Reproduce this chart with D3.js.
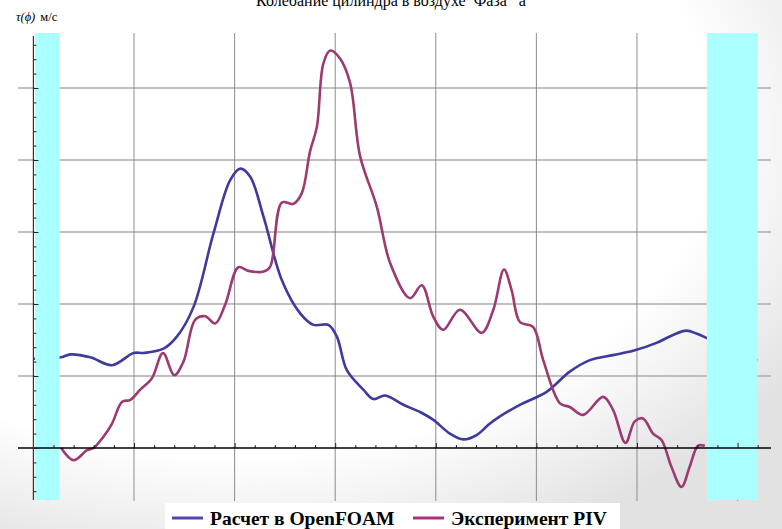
<!DOCTYPE html>
<html>
<head>
<meta charset="utf-8">
<script src="https://cdn.jsdelivr.net/npm/d3@7"></script>
<style>
  html, body { margin: 0; padding: 0; background: #fff; }
  svg { display: block; }
</style>
</head>
<body>
<script>
const title = 'Колебание цилиндра в воздухе  Фаза   а'
const seriesNames = ['Расчет в OpenFOAM', 'Эксперимент PIV']

// OpenFOAM, phase (deg) / value
const foamX = [0, 13.8, 18.4, 28.3, 39.1, 49.8, 54.8, 64.7, 71.4, 79.6, 89.5, 97.8, 102.8, 107.7, 114.4, 123.5,
  132.6, 139.2, 146.6, 150.8, 155.8, 164, 169, 174.8, 183.9, 192.2, 198.8, 207, 213.7, 220.3, 226.9, 231.9,
  241.8, 255.1, 266.6, 276.6, 288.1, 298.1, 309.7, 317.9, 324.6, 329.5, 333.7, 346, 360]
const foamY = [1.24, 1.26, 1.30, 1.26, 1.15, 1.32, 1.32, 1.38, 1.55, 1.96, 2.98, 3.72, 3.88, 3.77, 3.21, 2.33,
  1.87, 1.71, 1.71, 1.55, 1.08, 0.81, 0.68, 0.73, 0.60, 0.50, 0.39, 0.20, 0.12, 0.18, 0.34, 0.44,
  0.60, 0.78, 1.06, 1.22, 1.29, 1.35, 1.46, 1.57, 1.63, 1.59, 1.54, 1.36, 1.22]

// PIV experiment
const pivX = [13.8, 20, 26.7, 29.9, 34.9, 39.1, 44, 48.2, 53.1, 58.9, 64.4, 70, 74.6, 80.4, 85.4, 90.4, 95.3,
  101.9, 106.9, 114.4, 117.7, 123.5, 129.2, 133.4, 137.5, 140.9, 144.1, 147.5, 152.4, 157.4, 162.4, 170.7,
  177.3, 187.2, 193, 198.8, 203.7, 212, 222.8, 228.6, 233.9, 237.7, 241.8, 248.4, 253.4, 261.7, 266.6,
  273.2, 283.2, 288.1, 294.3, 298.9, 303, 308, 312.2, 317.1, 322.1, 326.2, 330.3, 333.7]
const pivY = [0, -0.17, -0.03, 0, 0.16, 0.34, 0.64, 0.67, 0.81, 0.97, 1.32, 1.01, 1.20, 1.78, 1.83, 1.73, 1.99,
  2.51, 2.46, 2.45, 2.52, 3.41, 3.39, 3.54, 4.12, 4.46, 5.34, 5.52, 5.41, 5.07, 4.05, 3.35,
  2.57, 2.08, 2.26, 1.82, 1.64, 1.92, 1.60, 1.92, 2.48, 2.19, 1.75, 1.68, 1.22, 0.62, 0.57,
  0.46, 0.71, 0.53, 0.07, 0.37, 0.41, 0.20, 0.11, -0.26, -0.54, -0.26, 0.03, 0.03]

const bands = [[0, 13], [334, 360]]
const xMajor = [50, 100, 150, 200, 250, 300, 350]
const yMajor = [1, 2, 3, 4, 5]

const width = 782
const height = 529

let svg = d3.select('body').append('svg')
  .attr('width', width)
  .attr('height', height)
  .style('font-family', '"Liberation Serif", "DejaVu Serif", serif')

let x = d3.scaleLinear().domain([0, 360]).range([33.4, 757.7])
let y = d3.scaleLinear().domain([0, 5]).range([448, 88])

// soft grey shading towards the lower right corner
let defs = svg.append('defs')
let grad = defs.append('radialGradient')
  .attr('id', 'bg')
  .attr('cx', '30%').attr('cy', '25%').attr('r', '85%')
grad.append('stop').attr('offset', '72%').attr('stop-color', '#ffffff')
grad.append('stop').attr('offset', '100%').attr('stop-color', '#e2e2e2')
svg.append('rect')
  .attr('width', width).attr('height', height)
  .attr('fill', 'url(#bg)')

// grid
let grid = svg.append('g').attr('class', 'grid')
grid.selectAll('line.h')
  .data(yMajor)
  .enter().append('line')
    .attr('class', 'h')
    .attr('x1', 18).attr('x2', 771)
    .attr('y1', d => y(d)).attr('y2', d => y(d))
    .attr('stroke', '#ababab')
    .attr('stroke-width', 1.4)
grid.selectAll('line.v')
  .data(xMajor)
  .enter().append('line')
    .attr('class', 'v')
    .attr('x1', d => x(d)).attr('x2', d => x(d))
    .attr('y1', 33).attr('y2', 501)
    .attr('stroke', '#8c8c8c')
    .attr('stroke-width', 1)

// curves
let line = d3.line()
  .x(d => x(d[0]))
  .y(d => y(d[1]))
  .curve(d3.curveCatmullRom.alpha(0.5))

let series = [
  { name: seriesNames[0], pts: d3.zip(foamX, foamY), color: '#3e3b9c', legend: '#5a40b2' },
  { name: seriesNames[1], pts: d3.zip(pivX, pivY), color: '#9c3a72', legend: '#b02f7c' }
]

svg.append('g').attr('class', 'curves')
  .selectAll('path')
  .data(series)
  .enter().append('path')
    .attr('d', d => line(d.pts))
    .attr('fill', 'none')
    .attr('stroke', d => d.color)
    .attr('stroke-width', 2.6)
    .attr('stroke-linejoin', 'round')

// cyan bands sit over the curves
svg.append('g').attr('class', 'bands')
  .selectAll('rect')
  .data(bands)
  .enter().append('rect')
    .attr('x', d => x(d[0]) + 1.5)
    .attr('width', d => x(d[1]) - x(d[0]) - 1.5)
    .attr('y', 33)
    .attr('height', 467)
    .attr('fill', '#aaffff')

// axes
let xMinor = d3.range(10, 361, 10).filter(v => v % 50 !== 0)
let yMinor = d3.range(-3, 29).map(v => v / 5).filter(v => Math.round(v * 5) % 5 !== 0)

let xAxis = svg.append('g').attr('transform', `translate(0,${y(0)})`)
xAxis.append('g')
  .call(d3.axisTop(x).tickValues(xMinor).tickSize(3).tickSizeOuter(0).tickFormat(''))
xAxis.append('g')
  .call(d3.axisTop(x).tickValues(xMajor).tickSize(5).tickSizeOuter(0).tickFormat(''))
xAxis.selectAll('.domain').remove()
xAxis.append('line')
  .attr('x1', 18).attr('x2', 771)
  .attr('stroke', '#000')
  .attr('stroke-width', 1.4)

let yAxis = svg.append('g').attr('transform', `translate(${x(0)},0)`)
yAxis.append('g')
  .call(d3.axisRight(y).tickValues(yMinor).tickSize(3).tickSizeOuter(0).tickFormat(''))
yAxis.append('g')
  .call(d3.axisRight(y).tickValues([0].concat(yMajor)).tickSize(5).tickSizeOuter(0).tickFormat(''))
yAxis.selectAll('.domain').remove()
yAxis.append('line')
  .attr('y1', 36).attr('y2', 500)
  .attr('stroke', '#333')
  .attr('stroke-width', 1.2)
svg.selectAll('.tick line').attr('stroke', '#222')

// title, cut by the top edge as in the original
svg.append('text')
  .attr('x', 391)
  .attr('y', 6)
  .attr('text-anchor', 'middle')
  .style('white-space', 'pre')
  .attr('font-size', 16)
  .text(title)

let yLabel = svg.append('text')
  .attr('x', 16)
  .attr('y', 21)
  .attr('font-size', 12.5)
yLabel.append('tspan').attr('font-style', 'italic').text('τ(ϕ)')
yLabel.append('tspan').attr('dx', 5).text('м/с')

// legend
let legend = svg.append('g').attr('class', 'legend')
legend.append('rect')
  .attr('x', 165).attr('y', 503)
  .attr('width', 455).attr('height', 26)
  .attr('fill', '#fff')

let legendX = [172, 413]
let items = legend.selectAll('g.item')
  .data(series)
  .enter().append('g')
    .attr('class', 'item')
    .attr('transform', (d, i) => `translate(${legendX[i]},518)`)
items.append('line')
  .attr('x1', 0).attr('x2', 31)
  .attr('stroke', d => d.legend)
  .attr('stroke-width', 3)
items.append('text')
  .attr('x', 38)
  .attr('y', 6.5)
  .attr('font-size', 19.5)
  .attr('font-weight', 'bold')
  .text(d => d.name)
</script>
</body>
</html>
